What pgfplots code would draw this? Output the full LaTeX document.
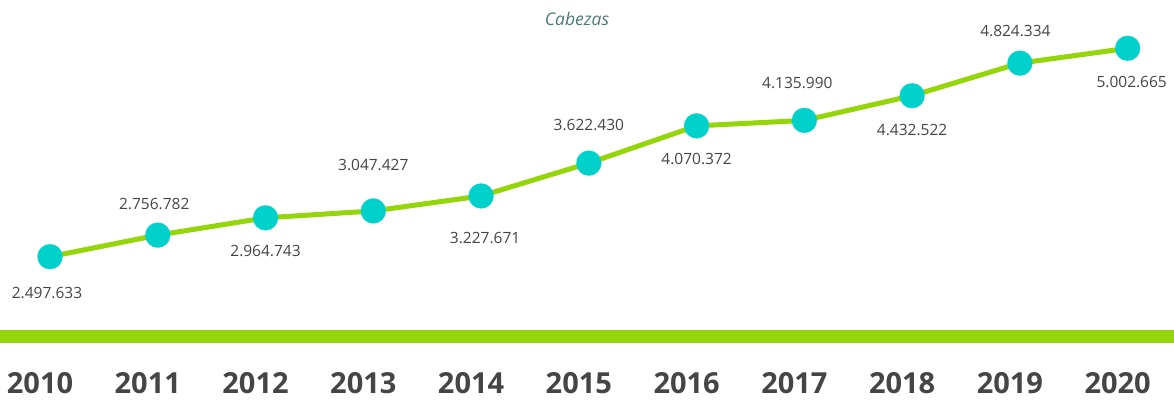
\documentclass[border=0pt]{standalone}
\usepackage{fontspec}
\setmainfont{Open Sans}
\usepackage{pgfplots}
\usepackage{pgfplotstable}
\pgfplotsset{compat=1.18}

\definecolor{lgreen}{HTML}{94D60A}
\definecolor{dotcyan}{HTML}{00D2CB}
\definecolor{txtgray}{HTML}{454545}
\definecolor{subteal}{HTML}{4A7A75}

% year, head count, label text, label offsets (bp)
\pgfplotstableread{
x    y        lbl        dx    dy
2010 2497633  2.497.633  -3    -36.8
2011 2756782  2.756.782  -3.5  31.6
2012 2964743  2.964.743  0     -33.2
2013 3047427  3.047.427  0     46.2
2014 3227671  3.227.671  4     -42.5
2015 3622430  3.622.430  0     38
2016 4070372  4.070.372  0     -33
2017 4135990  4.135.990  -7    37
2018 4432522  4.432.522  0     -34.3
2019 4824334  4.824.334  -4.5  32
2020 5002665  5.002.665  4     -33.4
}\datatable

\begin{document}
\begin{tikzpicture}
\begin{axis}[
  scale only axis,
  width=1174bp, height=401bp,
  xmin=2009.536, xmax=2020.43,
  ymin=763053, ymax=5583265,
  axis line style={draw=none},
  major tick length=0pt,
  ytick=\empty,
  xtick=data,
  xticklabels={2010,2011,2012,2013,2014,2015,2016,2017,2018,2019,2020},
  x tick label style={font=\fontsize{29bp}{32bp}\selectfont\bfseries, text=txtgray,
    anchor=center, yshift=17.5bp, xshift=-10bp},
  clip=false,
]
\fill[lgreen] (rel axis cs:0,0.1446) rectangle (rel axis cs:1,0.1771);
\node[font=\fontsize{17.5bp}{20bp}\selectfont\itshape, text=subteal]
  at (rel axis cs:0.4915,0.9526) {Cabezas};
\addplot[line width=5bp, color=lgreen, mark=*, mark size=12.5bp,
  mark options={fill=dotcyan, draw=dotcyan, line width=0.1pt},
  point meta=explicit symbolic,
  visualization depends on={\thisrow{dx} \as \dx},
  visualization depends on={\thisrow{dy} \as \dy},
  nodes near coords,
  nodes near coords style={font=\fontsize{15.5bp}{18bp}\selectfont, text=txtgray,
    anchor=center, inner sep=0pt, xshift=\dx bp, yshift=\dy bp},
] table[x=x, y=y, meta=lbl] {\datatable};
\coordinate (bl) at (rel axis cs:0,0);
\coordinate (tr) at (rel axis cs:1,1);
\end{axis}
\pgfresetboundingbox
\path[use as bounding box] (bl) rectangle (tr);
\end{tikzpicture}
\end{document}
